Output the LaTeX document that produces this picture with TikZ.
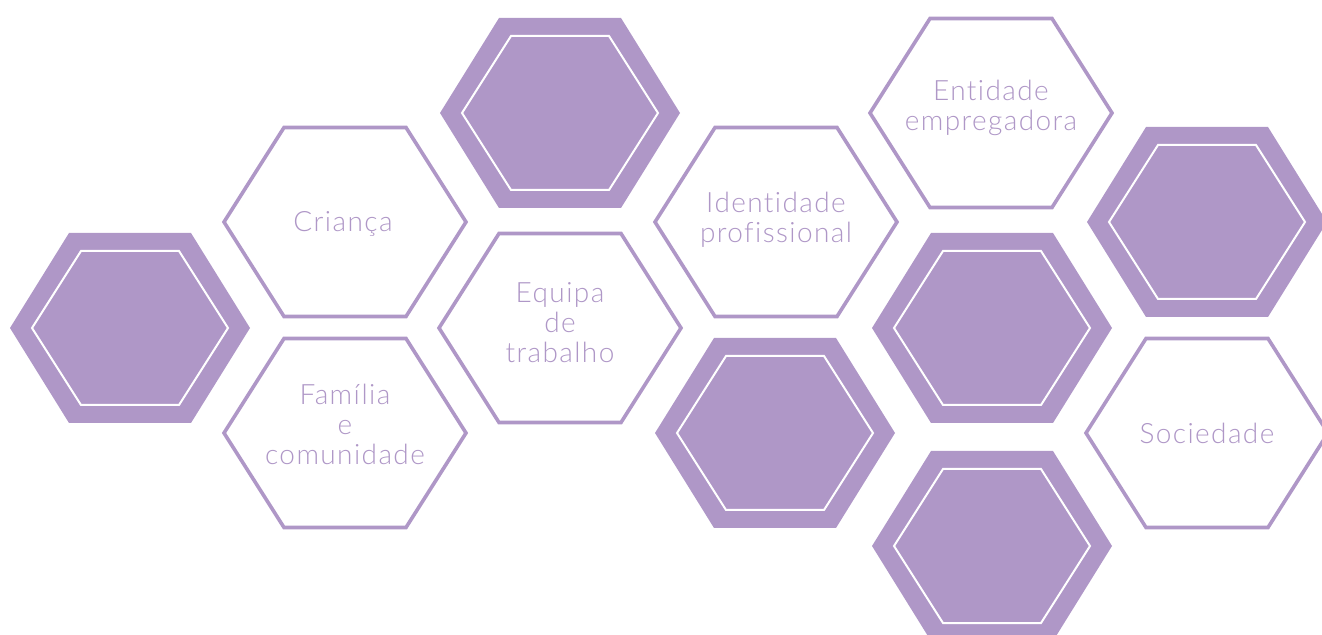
\documentclass[tikz,border=0pt]{standalone}
\usepackage{fontspec}
\setmainfont{Lato}[UprightFont=* Light, Ligatures=NoCommon, LetterSpace=5]
\definecolor{hexpurple}{RGB}{175,151,199}
\tikzset{
hexfull/.style={draw=none, fill=hexpurple},
hexinner/.style={draw=white, line width=1pt},
hexline/.style={draw=hexpurple, line width=1.8pt, fill=white},
hexlabel/.style={text=hexpurple, align=center, font=\fontsize{14}{15}\selectfont},
}

\begin{document}
\begin{tikzpicture}[x=0.5pt,y=0.5pt,yscale=-1,xscale=1]
\useasboundingbox (0,0) rectangle (1322,635);

%Shape: Polygon [filled, left]
\draw [hexfull] (10,328) -- (69,233) -- (191,233) -- (250,328) -- (191,423) -- (69,423) -- cycle ;
\draw [hexinner] (32,328) -- (81,251) -- (179,251) -- (228,328) -- (179,405) -- (81,405) -- cycle ;
%Shape: Polygon [filled, top]
\draw [hexfull] (440,113) -- (499,18) -- (621,18) -- (680,113) -- (621,208) -- (499,208) -- cycle ;
\draw [hexinner] (462,113) -- (511,36) -- (609,36) -- (658,113) -- (609,190) -- (511,190) -- cycle ;
%Shape: Polygon [filled, middle bottom]
\draw [hexfull] (655,433) -- (714,338) -- (836,338) -- (895,433) -- (836,528) -- (714,528) -- cycle ;
\draw [hexinner] (677,433) -- (726,356) -- (824,356) -- (873,433) -- (824,510) -- (726,510) -- cycle ;
%Shape: Polygon [filled, right middle]
\draw [hexfull] (872,328) -- (931,233) -- (1053,233) -- (1112,328) -- (1053,423) -- (931,423) -- cycle ;
\draw [hexinner] (894,328) -- (943,251) -- (1041,251) -- (1090,328) -- (1041,405) -- (943,405) -- cycle ;
%Shape: Polygon [filled, right bottom]
\draw [hexfull] (872,546) -- (931,451) -- (1053,451) -- (1112,546) -- (1053,641) -- (931,641) -- cycle ;
\draw [hexinner] (894,546) -- (943,469) -- (1041,469) -- (1090,546) -- (1041,623) -- (943,623) -- cycle ;
%Shape: Polygon [filled, far right]
\draw [hexfull] (1087,222) -- (1146,127) -- (1268,127) -- (1327,222) -- (1268,317) -- (1146,317) -- cycle ;
\draw [hexinner] (1109,222) -- (1158,145) -- (1256,145) -- (1305,222) -- (1256,299) -- (1158,299) -- cycle ;

%Shape: Polygon [outlined]
\draw [hexline] (224,222) -- (284,127.5) -- (406,127.5) -- (466,222) -- (406,316.5) -- (284,316.5) -- cycle ;
\draw [hexline] (224,433) -- (284,338.5) -- (406,338.5) -- (466,433) -- (406,527.5) -- (284,527.5) -- cycle ;
\draw [hexline] (439,328) -- (499,233.5) -- (621,233.5) -- (681,328) -- (621,422.5) -- (499,422.5) -- cycle ;
\draw [hexline] (655,222) -- (715,127.5) -- (837,127.5) -- (897,222) -- (837,316.5) -- (715,316.5) -- cycle ;
\draw [hexline] (870,113) -- (930,18.5) -- (1052,18.5) -- (1112,113) -- (1052,207.5) -- (930,207.5) -- cycle ;
\draw [hexline] (1086,433) -- (1146,338.5) -- (1268,338.5) -- (1328,433) -- (1268,527.5) -- (1146,527.5) -- cycle ;

%Labels
\node [hexlabel] (crianca) at (343,224) {Criança};
\node [hexlabel] (familia) at (345,424) {Família\\e\\comunidade};
\node [hexlabel] (equipa) at (560,323) {Equipa\\de\\trabalho};
\node [hexlabel] (identidade) at (776,220) {Identidade\\profissional};
\node [hexlabel] (entidade) at (991,108) {Entidade\\empregadora};
\node [hexlabel] (sociedade) at (1207,433) {Sociedade};

\end{tikzpicture}
\end{document}
